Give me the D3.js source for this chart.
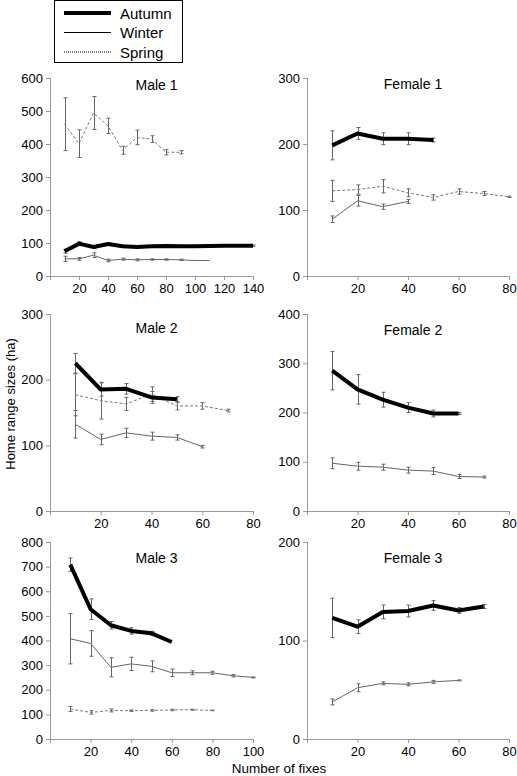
<!DOCTYPE html>
<html><head><meta charset="utf-8">
<script src="https://cdn.jsdelivr.net/npm/d3@7"></script>
<style>html,body{margin:0;padding:0;background:#fff;}svg{display:block;font-family:"Liberation Sans",Arial,Helvetica,sans-serif;}</style>
</head><body>
<svg id="c" width="517" height="776"></svg>
<script>
// ---- data ----
const seriesNames = ["Autumn", "Winter", "Spring"];
const panelTitles = ["Male 1", "Female 1", "Male 2", "Female 2", "Male 3", "Female 3"];
const yMax = [600, 300, 300, 400, 800, 200];
const xMax = [140, 80, 80, 80, 100, 80];
const yTicks = [[0,100,200,300,400,500,600],[0,100,200,300],[0,100,200,300],[0,100,200,300,400],[0,100,200,300,400,500,600,700,800],[0,100,200]];

const male1Autumn = [75, 98, 88, 97, 90, 88, 90, 91, 90, 90, 91, 92, 92, 92];
const male1AutumnErr = [6, 6, 4, 4, 3, 3, 2, 2, 2, 2, 2, 2, 2, 2];
const male1Winter = [52, 52, 63, 47, 51, 49, 50, 50, 49, 47, 47];
const male1WinterErr = [8, 4, 7, 4, 3, 3, 2, 2, 2, 0, 0];
const male1Spring = [460, 401, 494, 455, 381, 420, 415, 375, 375];
const male1SpringErr = [80, 42, 50, 23, 12, 22, 10, 8, 5];

const female1Autumn = [198, 216, 208, 208, 206];
const female1AutumnErr = [22, 9, 9, 9, 3];
const female1Winter = [86, 114, 105, 113];
const female1WinterErr = [5, 8, 4, 3];
const female1Spring = [129, 131, 136, 126, 119, 128, 125, 120];
const female1SpringErr = [16, 7, 10, 6, 4, 4, 3, 1];

const male2Autumn = [225, 185, 186, 173, 170];
const male2AutumnErr = [15, 10, 8, 9, 4];
const male2Winter = [132, 109, 119, 114, 112, 98];
const male2WinterErr = [21, 8, 7, 6, 4, 2];
const male2Spring = [177, 168, 163, 178, 160, 160, 153];
const male2SpringErr = [32, 28, 10, 11, 6, 5, 2];

const female2Autumn = [285, 247, 226, 210, 198, 198];
const female2AutumnErr = [39, 30, 15, 10, 7, 2];
const female2Winter = [97, 91, 89, 83, 81, 70, 69];
const female2WinterErr = [11, 8, 6, 6, 7, 4, 2];
const female2Spring = [];
const female2SpringErr = [];

const male3Autumn = [708, 527, 462, 439, 429, 394];
const male3AutumnErr = [27, 42, 15, 13, 8, 0];
const male3Winter = [407, 388, 291, 305, 295, 269, 269, 269, 257, 250];
const male3WinterErr = [102, 52, 39, 27, 22, 15, 8, 6, 5, 2];
const male3Spring = [122, 108, 116, 115, 116, 118, 119, 116];
const male3SpringErr = [10, 7, 6, 3, 3, 3, 2, 1];

const female3Autumn = [123, 114, 129, 130, 135.5, 130.5, 134.5];
const female3AutumnErr = [20, 7, 7, 6, 5, 3, 2];
const female3Winter = [37.6, 52, 56.5, 55.5, 58, 59.5];
const female3WinterErr = [3, 4, 1.5, 1.5, 1.5, 0.5];
const female3Spring = [];
const female3SpringErr = [];

const panelSeries = [
  [[male1Autumn, male1AutumnErr], [male1Winter, male1WinterErr], [male1Spring, male1SpringErr]],
  [[female1Autumn, female1AutumnErr], [female1Winter, female1WinterErr], [female1Spring, female1SpringErr]],
  [[male2Autumn, male2AutumnErr], [male2Winter, male2WinterErr], [male2Spring, male2SpringErr]],
  [[female2Autumn, female2AutumnErr], [female2Winter, female2WinterErr], [female2Spring, female2SpringErr]],
  [[male3Autumn, male3AutumnErr], [male3Winter, male3WinterErr], [male3Spring, male3SpringErr]],
  [[female3Autumn, female3AutumnErr], [female3Winter, female3WinterErr], [female3Spring, female3SpringErr]]
];

// ---- layout ----
const colX = [[50, 253], [307, 509]];
const rowY = [[78, 276], [314, 511], [542, 739]];
const titleDy = [12, 11, 19, 21, 21, 21];
const styles = [
  {stroke: "#000", width: 4, dash: null},
  {stroke: "#666", width: 1, dash: null},
  {stroke: "#777", width: 1, dash: "3,2"}
];
const axisColor = "#999";

const svg = d3.select("#c");

panelSeries.forEach((series, i) => {
  const col = i % 2, row = Math.floor(i / 2);
  const x = d3.scaleLinear().domain([0, xMax[i]]).range(colX[col]);
  const y = d3.scaleLinear().domain([0, yMax[i]]).range([rowY[row][1], rowY[row][0]]);
  const g = svg.append("g");

  const xTickVals = d3.range(0, xMax[i] + 1, 20);
  const xa = g.append("g").attr("transform", `translate(0,${rowY[row][1]})`)
    .call(d3.axisBottom(x).tickValues(xTickVals).tickSize(4).tickPadding(4)
      .tickFormat(d => d === 0 ? "" : d));
  const ya = g.append("g").attr("transform", `translate(${colX[col][0]},0)`)
    .call(d3.axisLeft(y).tickValues(yTicks[i]).tickSize(4).tickPadding(3));
  [xa, ya].forEach(a => {
    a.select(".domain").attr("stroke", axisColor).attr("d", null);
    a.selectAll(".tick line").attr("stroke", axisColor);
    a.selectAll("text").attr("fill", "#000").attr("font-size", 13)
      .attr("font-family", '"Liberation Sans",Arial,sans-serif');
  });
  xa.select(".domain").remove();
  ya.select(".domain").remove();
  g.append("line").attr("x1", colX[col][0]).attr("x2", colX[col][1])
    .attr("y1", rowY[row][1] + 0.5).attr("y2", rowY[row][1] + 0.5).attr("stroke", axisColor);
  g.append("line").attr("x1", colX[col][0] + 0.5).attr("x2", colX[col][0] + 0.5)
    .attr("y1", rowY[row][0]).attr("y2", rowY[row][1]).attr("stroke", axisColor);

  g.append("text").attr("x", (colX[col][0] + colX[col][1]) / 2 + 5)
    .attr("y", rowY[row][0] + titleDy[i]).attr("text-anchor", "middle")
    .attr("font-size", 14).attr("fill", "#000").text(panelTitles[i]);

  // draw order: spring, winter, autumn (autumn on top)
  [2, 1, 0].forEach(s => {
    const [vals, errs] = series[s];
    if (!vals.length) return;
    const pts = vals.map((v, k) => ({x: (k + 1) * 10, v, e: errs[k]}));
    const eb = g.append("g").attr("stroke", "#666").attr("stroke-width", 1);
    pts.forEach(p => {
      if (p.e <= 0) return;
      const xx = Math.round(x(p.x)) + 0.5;
      eb.append("line").attr("x1", xx).attr("x2", xx).attr("y1", y(p.v - p.e)).attr("y2", y(p.v + p.e));
      eb.append("line").attr("x1", xx - 2).attr("x2", xx + 2).attr("y1", y(p.v - p.e)).attr("y2", y(p.v - p.e));
      eb.append("line").attr("x1", xx - 2).attr("x2", xx + 2).attr("y1", y(p.v + p.e)).attr("y2", y(p.v + p.e));
    });
    const st = styles[s];
    g.append("path").datum(pts)
      .attr("d", d3.line().x(p => x(p.x)).y(p => y(p.v)))
      .attr("fill", "none").attr("stroke", st.stroke).attr("stroke-width", st.width)
      .attr("stroke-dasharray", st.dash).attr("stroke-linejoin", "round");
  });
});

// legend
const lg = svg.append("g");
lg.append("rect").attr("x", 54.5).attr("y", 0.5).attr("width", 128).attr("height", 62)
  .attr("fill", "#fff").attr("stroke", "#000").attr("stroke-width", 1);
const legendStyles = [
  {w: 4, dash: null, c: "#000"},
  {w: 1.2, dash: null, c: "#000"},
  {w: 1.2, dash: "1,1", c: "#000"}
];
seriesNames.forEach((n, k) => {
  const yy = 13 + k * 19.5;
  lg.append("line").attr("x1", 64).attr("x2", 111).attr("y1", yy).attr("y2", yy)
    .attr("stroke", legendStyles[k].c).attr("stroke-width", legendStyles[k].w)
    .attr("stroke-dasharray", legendStyles[k].dash);
  lg.append("text").attr("x", 120).attr("y", yy + 5.5).attr("font-size", 15)
    .attr("fill", "#000").text(n);
});

// axis titles
svg.append("text").attr("transform", "translate(15,404) rotate(-90)")
  .attr("text-anchor", "middle").attr("font-size", 13).attr("fill", "#000")
  .text("Home range sizes (ha)");
svg.append("text").attr("x", 279).attr("y", 773).attr("text-anchor", "middle")
  .attr("font-size", 13.5).attr("fill", "#000").text("Number of fixes");
</script>
</body></html>
